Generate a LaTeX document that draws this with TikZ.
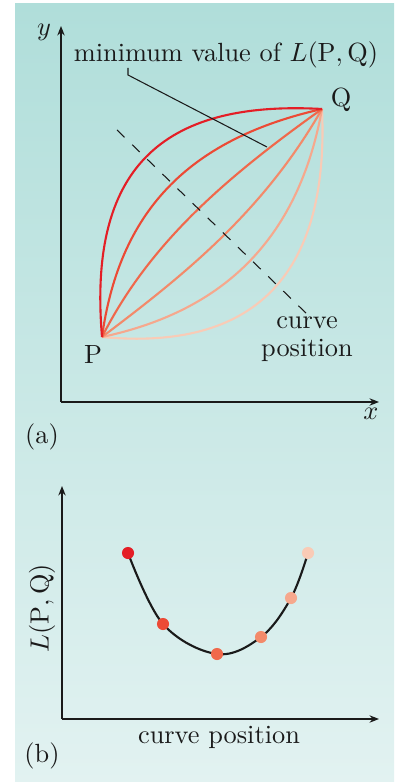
\documentclass[tikz,border=0pt]{standalone}
\usetikzlibrary{arrows.meta}
\definecolor{bgtop}{HTML}{B0DEDA}
\definecolor{bgbot}{HTML}{E2F2F1}
\definecolor{cA}{HTML}{E41E26}
\definecolor{cB}{HTML}{EC4A35}
\definecolor{cC}{HTML}{F0684B}
\definecolor{cD}{HTML}{F38A6A}
\definecolor{cE}{HTML}{F6A88D}
\definecolor{cF}{HTML}{F9CBB6}
\definecolor{ink}{HTML}{1A1A1A}
\begin{document}
\begin{tikzpicture}[x=0.38pt,y=-0.38pt,
  axis/.style={line width=0.5pt,draw=ink,-{Stealth[length=3.6pt,width=2.8pt]}},
  curv/.style={line width=0.8pt},
  lbl/.style={inner sep=0pt,text=ink,font=\fontsize{10}{10.5}\selectfont},
  dot/.style={circle,inner sep=0pt,minimum size=4.6pt}]
\useasboundingbox (0,0) rectangle (402,782);
\shade[top color=bgtop,bottom color=bgbot] (15,4) rectangle (394,782);
% ---------- panel (a)
\coordinate (O1) at (61,402);
\coordinate (Y1) at (61,26);
\coordinate (X1) at (379,402);
\draw[axis] (O1) -- (Y1);
\draw[axis] (O1) -- (X1);
\node[lbl] (ylab) at (44,32) {$y$};
\node[lbl] (xlab) at (371,414) {$x$};
\node[lbl] (alab) at (42,437) {(a)};
\coordinate (P) at (102,337);
\coordinate (Q) at (322,109);
\draw[curv,cF] (P) .. controls (240,350) and (330,290) .. (Q);
\draw[curv,cE] (P) .. controls (210,314) and (296,252) .. (Q);
\draw[curv,cD] (P) .. controls (180,278) and (262,214) .. (Q);
\draw[curv,cC] (P) .. controls (150,242) and (228,176) .. (Q);
\draw[curv,cB] (P) .. controls (120,206) and (194,138) .. (Q);
\draw[curv,cA] (P) .. controls (88,170) and (160,100) .. (Q);
\node[lbl] (Plab) at (93,355) {P};
\node[lbl] (Qlab) at (341,100) {Q};
\coordinate (D1) at (117,130);
\coordinate (D2) at (308,315);
\draw[ink,line width=0.4pt,dash pattern=on 4pt off 4pt] (D1) -- (D2);
\node[lbl,align=center] (cp) at (307,339) {curve\\position};
\node[lbl] (minlab) at (226,55) {minimum value of $L(\mathrm{P},\mathrm{Q})$};
\coordinate (M1) at (128,68);
\coordinate (M2) at (128,75);
\coordinate (M3) at (267,147);
\draw[ink,line width=0.4pt] (M1) -- (M2) -- (M3);
% ---------- panel (b)
\coordinate (O2) at (62,719);
\coordinate (Y2) at (62,486);
\coordinate (X2) at (379,719);
\draw[axis] (O2) -- (Y2);
\draw[axis] (O2) -- (X2);
\node[lbl,rotate=90] (Llab) at (42,608) {$L(\mathrm{P},\mathrm{Q})$};
\node[lbl] (cplab) at (219,737) {curve position};
\node[lbl] (blab) at (42,756) {(b)};
\coordinate (d1) at (128,553);
\coordinate (d2) at (163,624);
\coordinate (d3) at (217,654);
\coordinate (d4) at (261,637);
\coordinate (d5) at (291,598);
\coordinate (d6) at (308,553);
\draw[ink,line width=0.8pt] plot[smooth,tension=0.6] coordinates {(d1) (d2) (d3) (d4) (d5) (d6)};
\node[dot,fill=cA] (n1) at (d1) {};
\node[dot,fill=cB] (n2) at (d2) {};
\node[dot,fill=cC] (n3) at (d3) {};
\node[dot,fill=cD] (n4) at (d4) {};
\node[dot,fill=cE] (n5) at (d5) {};
\node[dot,fill=cF] (n6) at (d6) {};
\end{tikzpicture}
\end{document}
